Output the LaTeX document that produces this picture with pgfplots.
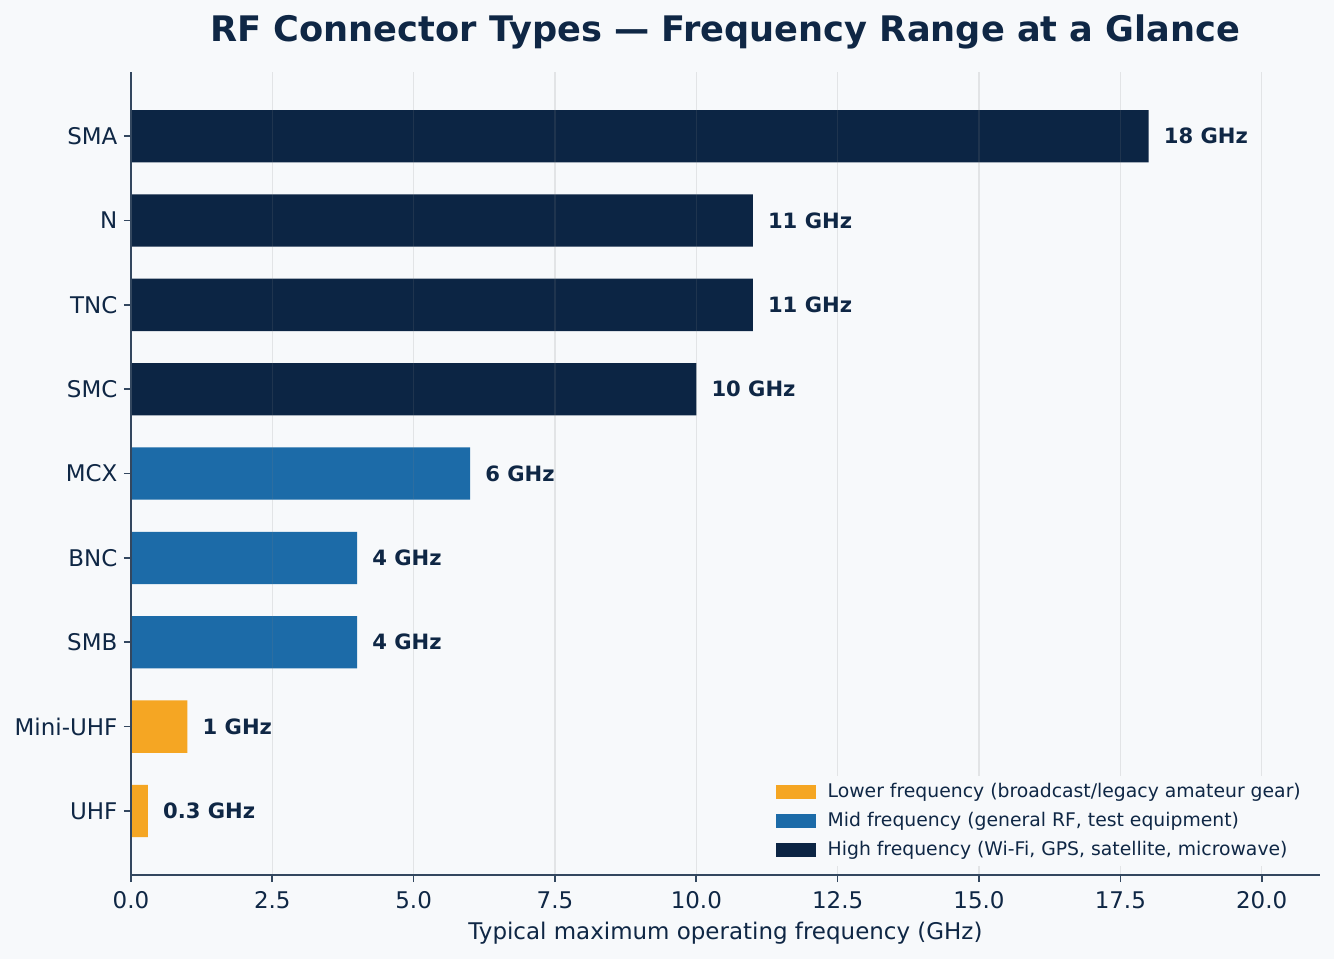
\documentclass[border=0pt]{standalone}
\usepackage{fontspec}
\setmainfont{DejaVu Sans}
\usepackage{pgfplots}
\pgfplotsset{compat=1.18}
\definecolor{navy}{HTML}{0C2544}
\definecolor{midblue}{HTML}{1C6BA8}
\definecolor{amber}{HTML}{F5A623}
\definecolor{bg}{HTML}{F7F9FB}
\definecolor{spine}{HTML}{33475F}
\definecolor{txt}{HTML}{0F2745}

\pgfplotsset{legpatch/.style={legend image code/.code={\fill[##1,draw=none] (0pt,-3.8pt) rectangle (21.6pt,3.8pt); \path (25.8pt,0pt);}}}

\begin{document}
\begin{tikzpicture}
\fill[bg] (-70.7pt,-45.4pt) rectangle (649.6pt,472.5pt);
\path[use as bounding box] (-70.7pt,-45.4pt) rectangle (649.6pt,472.5pt);
\begin{axis}[
    at={(0,0)}, anchor=south west,
    scale only axis, width=642pt, height=433.6pt,
    xmin=0, xmax=21.03, ymin=-0.76, ymax=8.76,
    xbar, bar width=0.62, bar shift=0pt,
    axis on top,
    axis x line*=bottom, axis y line*=left,
    axis line style={spine, line width=0.9pt, -},
    tick style={spine, line width=0.9pt},
    tick align=outside, major tick length=3.8pt,
    xmajorgrids, major grid style={gray, opacity=0.17, line width=0.8pt},
    /pgf/number format/assume math mode=true,
    xtick={0,2.5,...,20},
    xticklabel style={yshift=-1.5pt, /pgf/number format/fixed, /pgf/number format/fixed zerofill, /pgf/number format/precision=1},
    ytick={0,...,8},
    yticklabels={UHF,Mini-UHF,SMB,BNC,MCX,SMC,TNC,N,SMA},
    ticklabel style={text=txt, font=\fontsize{12.4}{14}\selectfont},
    xlabel={Typical maximum operating frequency (GHz)},
    xlabel style={text=txt, font=\fontsize{12.4}{14}\selectfont, at={(axis description cs:0.5,0)}, anchor=center, yshift=-31.5pt},
    title={RF Connector Types — Frequency Range at a Glance},
    title style={text=txt, font=\bfseries\fontsize{19}{23}\selectfont, at={(axis description cs:0.5,1)}, anchor=center, yshift=15.5pt},
    point meta=x,
    nodes near coords={\pgfmathprintnumber{\pgfplotspointmeta} GHz},
    nodes near coords style={text=txt, font=\bfseries\fontsize{11.4}{13}\selectfont, anchor=west, inner sep=0pt, xshift=8pt},
    legend style={at={(0.992,0.011)}, anchor=south east, draw=none, fill=bg,
        font=\fontsize{10.15}{12}\selectfont, text=txt, row sep=2.4pt},
    legend cell align=left,
]
\addplot[fill=amber, draw=none, legpatch] coordinates {(0.3,0) (1,1)};
\addplot[fill=midblue, draw=none, legpatch] coordinates {(4,2) (4,3) (6,4)};
\addplot[fill=navy, draw=none, legpatch] coordinates {(10,5) (11,6) (11,7) (18,8)};
\legend{Lower frequency (broadcast/legacy amateur gear),
        Mid frequency (general RF{,} test equipment),
        High frequency (Wi-Fi{,} GPS{,} satellite{,} microwave)}
\end{axis}
\end{tikzpicture}
\end{document}
